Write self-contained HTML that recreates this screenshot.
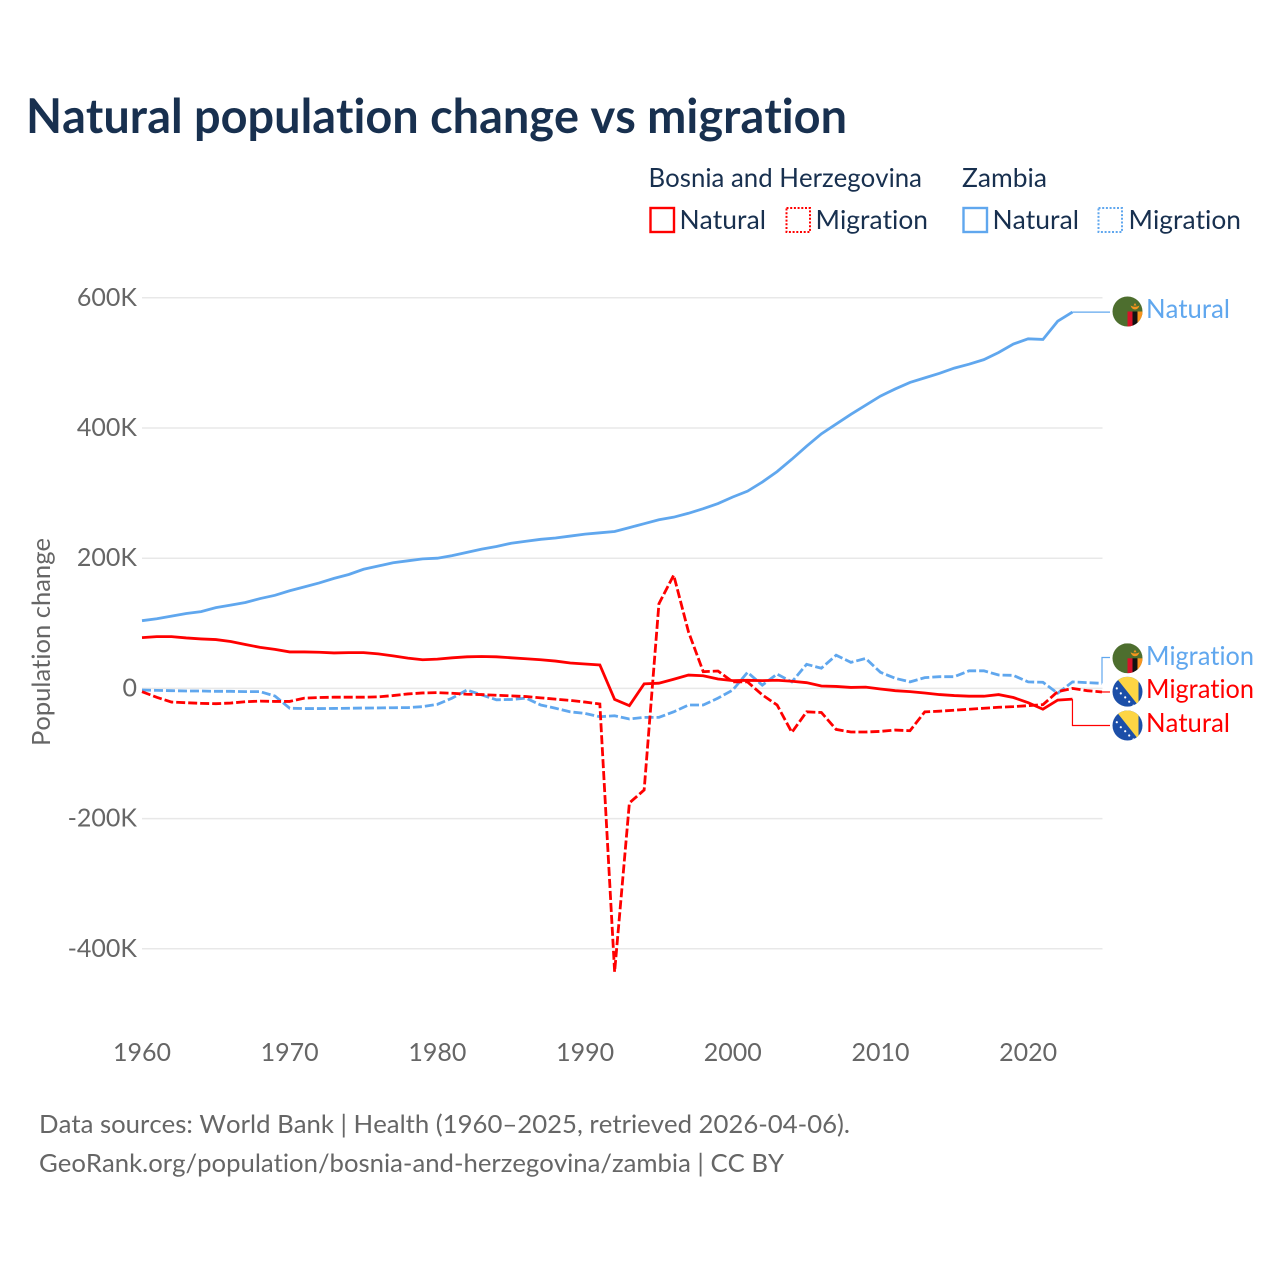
<!DOCTYPE html>
<html lang="en">
<head>
<meta charset="utf-8">
<title>Natural population change vs migration</title>
<style>
  html, body { margin: 0; padding: 0; background: #fff; }
  svg { display: block; font-family: "Lato", "Liberation Sans", sans-serif; font-variant-ligatures: none; font-kerning: none; }
</style>
</head>
<body>
<svg id="chart" xmlns="http://www.w3.org/2000/svg" width="1280" height="1280" viewBox="0 0 1280 1280">
  <rect x="0" y="0" width="1280" height="1280" fill="#ffffff"/>
  <text x="26" y="133" font-size="48" font-weight="700" fill="#18304f" textLength="821" lengthAdjust="spacingAndGlyphs">Natural population change vs migration</text>

  <g font-size="26" fill="#18304f">
    <text x="648.5" y="187" textLength="273.5" lengthAdjust="spacingAndGlyphs">Bosnia and Herzegovina</text>
    <text x="962" y="187" textLength="85" lengthAdjust="spacingAndGlyphs">Zambia</text>
    <rect x="650.5" y="208" width="23.5" height="24" fill="none" stroke="#ff0000" stroke-width="2.4"/>
    <text x="679.5" y="229" textLength="86.5" lengthAdjust="spacingAndGlyphs">Natural</text>
    <rect x="786.5" y="208" width="23.5" height="24" fill="none" stroke="#ff0000" stroke-width="2" stroke-dasharray="2 1.7"/>
    <text x="815.5" y="229" textLength="112.5" lengthAdjust="spacingAndGlyphs">Migration</text>
    <rect x="963.5" y="208" width="23.5" height="24" fill="none" stroke="#60a7ee" stroke-width="2.4"/>
    <text x="992.5" y="229" textLength="86.5" lengthAdjust="spacingAndGlyphs">Natural</text>
    <rect x="1098.5" y="208" width="23.5" height="24" fill="none" stroke="#60a7ee" stroke-width="2" stroke-dasharray="2 1.7"/>
    <text x="1128.5" y="229" textLength="112.5" lengthAdjust="spacingAndGlyphs">Migration</text>
  </g>

  <g id="grid"></g>
  <g id="yticks" font-size="25" fill="#666666" text-anchor="end"></g>
  <g id="xticks" font-size="25" fill="#666666" text-anchor="middle"></g>
  <text transform="translate(50,746) rotate(-90)" font-size="25" fill="#666666" textLength="208" lengthAdjust="spacingAndGlyphs">Population change</text>

  <g id="series" fill="none"></g>

  <defs>
    <clipPath id="flag-clip"><circle cx="0" cy="0" r="15"/></clipPath>
    <g id="zambia-flag" clip-path="url(#flag-clip)">
      <rect x="-15" y="-15" width="30" height="30" fill="#4d6e2e"/>
      <rect x="0" y="0" width="5" height="15" fill="#d8122a"/>
      <rect x="5" y="0" width="5" height="15" fill="#111111"/>
      <rect x="10" y="0" width="5" height="15" fill="#f7941e"/>
      <path d="M3 -6 Q7.5 -3.5 12 -6 Q10.5 -2 7.5 -2 Q4.5 -2 3 -6 Z" fill="#f7941e"/>
      <path d="M6 -6 L7.5 -8.5 L9 -6 Z" fill="#f7941e"/>
    </g>
    <g id="bosnia-flag" clip-path="url(#flag-clip)">
      <rect x="-15" y="-15" width="30" height="30" fill="#1c4fa8"/>
      <path d="M-12 -15 L11 -15 L11 14 Z" fill="#fdd544"/>
      <g fill="#ffffff">
        <circle cx="-10.7" cy="-3.3" r="1.1"/>
        <circle cx="-6.7" cy="1.7" r="1.1"/>
        <circle cx="-2.3" cy="5.7" r="1.1"/>
        <circle cx="1.7" cy="10" r="1.1"/>
        <circle cx="6" cy="14" r="1.1"/>
      </g>
    </g>
  </defs>

  <g id="end-labels" font-size="26">
    <use href="#zambia-flag" x="1127.5" y="311.5"/>
    <text x="1146" y="318" fill="#60a7ee" textLength="84" lengthAdjust="spacingAndGlyphs">Natural</text>
    <use href="#zambia-flag" x="1127.5" y="658.3"/>
    <text x="1146" y="665" fill="#60a7ee" textLength="108" lengthAdjust="spacingAndGlyphs">Migration</text>
    <use href="#bosnia-flag" x="1127.5" y="691.7"/>
    <text x="1146" y="698" fill="#ff0000" textLength="108" lengthAdjust="spacingAndGlyphs">Migration</text>
    <use href="#bosnia-flag" x="1127.5" y="725.5"/>
    <text x="1146" y="732" fill="#ff0000" textLength="84" lengthAdjust="spacingAndGlyphs">Natural</text>
  </g>

  <text x="39" y="1133" font-size="25.5" fill="#666666" textLength="811" lengthAdjust="spacingAndGlyphs">Data sources: World Bank | Health (1960–2025, retrieved 2026-04-06).</text>
  <text x="39" y="1172" font-size="25.5" fill="#666666" textLength="745" lengthAdjust="spacingAndGlyphs">GeoRank.org/population/bosnia-and-herzegovina/zambia | CC BY</text>
</svg>

<script>
const startYear = 1960;
const endYear = 2025;
const yTickValues = [600, 400, 200, 0, -200, -400];
const yTickLabels = ["600K", "400K", "200K", "0", "-200K", "-400K"];
const xTickYears = [1960, 1970, 1980, 1990, 2000, 2010, 2020];

// Values in thousands, one per year starting 1960
const zambiaNatural = [104,107,111,115,118,124,128,132,138,143,150,156,162,169,175,183,188,193,196,199,200,204,209,214,218,223,226,229,231,234,237,239,241,247,253,259,263,269,276,284,294,303,317,333,352,372,391,406,421,435,449,460,470,477,484,492,498,505,516,529,537,536,564,578];
const bosniaNatural = [78,79.5,79.5,77.5,76,75,72,67.5,63,60,56,56,55.5,54.5,55,55,53,50,46.5,44,45,47,48.5,49,48.5,47,45.5,44,42,39,37.5,36,-17,-26.5,7,8,14,20.5,19.5,14.5,12,12.4,12,12.5,11,8.8,3.7,3,1.5,2,-0.9,-3.5,-5,-7,-9.5,-11,-12,-12,-9.5,-14,-22,-32,-18,-16.5];
const zambiaMigration = [-2.5,-3,-3.5,-4,-4,-4.5,-4.5,-5,-5,-11.7,-30.5,-31,-31,-30.8,-30.5,-30.2,-30,-29.7,-29.5,-28,-24.5,-15,-2.5,-10,-17.5,-17,-15,-25.5,-30.5,-36,-38.5,-43.5,-42,-47,-44.5,-44.5,-36,-25.5,-25.5,-15,-2.5,24.7,5,22,10,37,31,51,40,46,24.7,15.5,10,16.5,18,18,27,27,20.6,20,10,9.4,-7.5,10,8.8,7.8];
const bosniaMigration = [-5,-13.7,-21,-22,-23,-23.5,-22.5,-20.5,-19.5,-20,-20,-15,-14,-13.5,-13.5,-13.5,-13,-11,-8.5,-7,-6.5,-7.5,-9,-9.5,-10.5,-11.5,-12.5,-14.5,-16.5,-18.5,-21,-24,-435.5,-176,-156,130,174,87,25.7,26.7,10,10,-10,-25.5,-67.5,-36,-37,-63,-67,-67,-66,-64,-65,-36,-35,-33.5,-32,-30.5,-29,-28,-26.5,-25,-5,0,-3.5,-5.5];

const SVG_NS = "http://www.w3.org/2000/svg";
const xScale = function (year) { return 142 + (year - startYear) * (960 / (endYear - startYear)); };
const yScale = function (v) { return 688.4 - v * 0.651; };

function linePath(values) {
  return values.map(function (v, i) {
    return (i === 0 ? "M" : "L") + xScale(startYear + i).toFixed(2) + " " + yScale(v).toFixed(2);
  }).join(" ");
}

const gridGroup = document.getElementById("grid");
const yTickGroup = document.getElementById("yticks");
yTickValues.forEach(function (v, i) {
  const gridLine = document.createElementNS(SVG_NS, "line");
  
  
  gridLine.setAttribute("x1", xScale(startYear));
  gridLine.setAttribute("x2", xScale(endYear) + 0.5);
  gridLine.setAttribute("y1", yScale(v));
  gridLine.setAttribute("y2", yScale(v));
  gridLine.setAttribute("stroke", "#e8e8e8");
  gridLine.setAttribute("stroke-width", "1.5");
  gridGroup.appendChild(gridLine);

  const label = document.createElementNS(SVG_NS, "text");
  
  
  label.setAttribute("x", "137");
  label.setAttribute("y", yScale(v) + 8);
  label.textContent = yTickLabels[i];
  yTickGroup.appendChild(label);
});

const xTickGroup = document.getElementById("xticks");
xTickYears.forEach(function (year) {
  const label = document.createElementNS(SVG_NS, "text");
  
  
  label.setAttribute("x", xScale(year));
  label.setAttribute("y", "1061");
  label.textContent = String(year);
  xTickGroup.appendChild(label);
});

const seriesGroup = document.getElementById("series");

const zambiaMigrationLine = document.createElementNS(SVG_NS, "path");


zambiaMigrationLine.setAttribute("d", linePath(zambiaMigration));
zambiaMigrationLine.setAttribute("stroke", "#60a7ee");
zambiaMigrationLine.setAttribute("stroke-width", "2.8");
zambiaMigrationLine.setAttribute("stroke-dasharray", "9 3");
seriesGroup.appendChild(zambiaMigrationLine);

const zambiaNaturalLine = document.createElementNS(SVG_NS, "path");


zambiaNaturalLine.setAttribute("d", linePath(zambiaNatural));
zambiaNaturalLine.setAttribute("stroke", "#60a7ee");
zambiaNaturalLine.setAttribute("stroke-width", "2.8");
seriesGroup.appendChild(zambiaNaturalLine);

const bosniaMigrationLine = document.createElementNS(SVG_NS, "path");


bosniaMigrationLine.setAttribute("d", linePath(bosniaMigration));
bosniaMigrationLine.setAttribute("stroke", "#ff0000");
bosniaMigrationLine.setAttribute("stroke-width", "2.8");
bosniaMigrationLine.setAttribute("stroke-dasharray", "9 3");
seriesGroup.appendChild(bosniaMigrationLine);

const bosniaNaturalLine = document.createElementNS(SVG_NS, "path");


bosniaNaturalLine.setAttribute("d", linePath(bosniaNatural));
bosniaNaturalLine.setAttribute("stroke", "#ff0000");
bosniaNaturalLine.setAttribute("stroke-width", "2.8");
seriesGroup.appendChild(bosniaNaturalLine);

// Thin leader lines from the last data point of each series to its end label
function endPoint(values) {
  return { x: xScale(startYear + values.length - 1), y: yScale(values[values.length - 1]) };
}

const zn = endPoint(zambiaNatural);
const zambiaNaturalLeader = document.createElementNS(SVG_NS, "path");


zambiaNaturalLeader.setAttribute("d", "M" + zn.x + " " + zn.y + " L1110 " + zn.y);
zambiaNaturalLeader.setAttribute("stroke", "#60a7ee");
zambiaNaturalLeader.setAttribute("stroke-width", "1.2");
seriesGroup.appendChild(zambiaNaturalLeader);

const zm = endPoint(zambiaMigration);
const zambiaMigrationLeader = document.createElementNS(SVG_NS, "path");


zambiaMigrationLeader.setAttribute("d", "M" + zm.x + " " + zm.y + " V657.5 H1110");
zambiaMigrationLeader.setAttribute("stroke", "#60a7ee");
zambiaMigrationLeader.setAttribute("stroke-width", "1.2");
seriesGroup.appendChild(zambiaMigrationLeader);

const bm = endPoint(bosniaMigration);
const bosniaMigrationLeader = document.createElementNS(SVG_NS, "path");


bosniaMigrationLeader.setAttribute("d", "M" + bm.x + " " + bm.y + " H1110");
bosniaMigrationLeader.setAttribute("stroke", "#ff0000");
bosniaMigrationLeader.setAttribute("stroke-width", "1.2");
seriesGroup.appendChild(bosniaMigrationLeader);

const bn = endPoint(bosniaNatural);
const bosniaNaturalLeader = document.createElementNS(SVG_NS, "path");


bosniaNaturalLeader.setAttribute("d", "M" + bn.x + " " + bn.y + " V725.5 H1110");
bosniaNaturalLeader.setAttribute("stroke", "#ff0000");
bosniaNaturalLeader.setAttribute("stroke-width", "1.2");
seriesGroup.appendChild(bosniaNaturalLeader);
</script>
</body>
</html>
